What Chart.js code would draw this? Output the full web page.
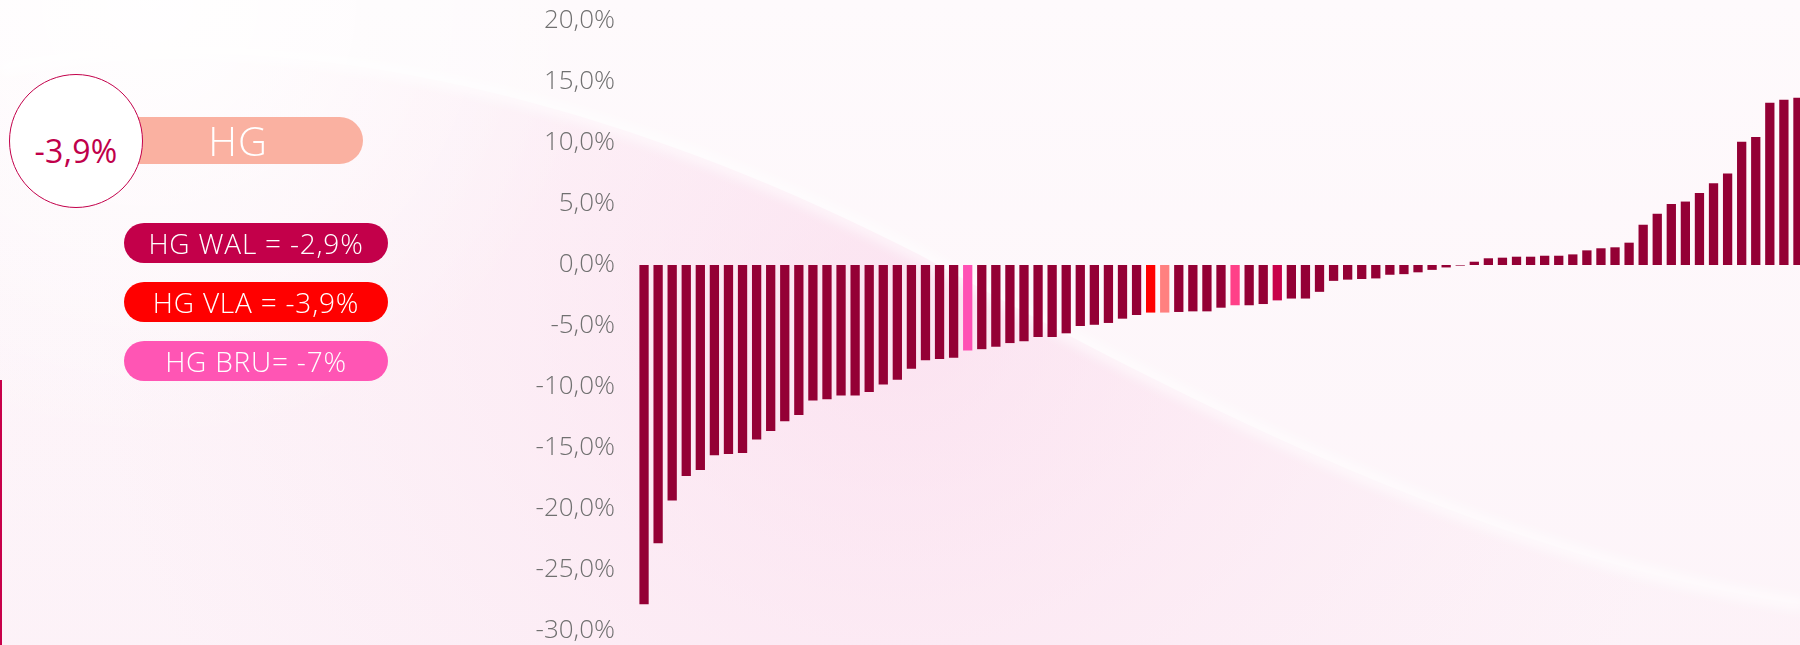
<!DOCTYPE html>
<html>
<head>
<meta charset="utf-8">
<script src="https://cdn.jsdelivr.net/npm/chart.js@4/dist/chart.umd.min.js"></script>
<style>
  html, body { margin: 0; padding: 0; width: 1800px; height: 645px; overflow: hidden; background: #fdf6fa; }
  body { position: relative; font-family: "Open Sans", sans-serif; }
  #myChart { position: absolute; left: 0; top: 0; }
  .pill {
    position: absolute; box-sizing: border-box; color: #fff; font-weight: 300;
    display: flex; align-items: center; justify-content: center; white-space: nowrap;
  }
  .small { left: 124px; width: 264px; height: 40px; border-radius: 20px; font-size: 28px; letter-spacing: 0.8px; }
  #hg { left: 60px; top: 117px; width: 303px; height: 47px; border-radius: 24px; background: #fab1a1; font-size: 40px; padding-left: 53px; letter-spacing: 1px; }
  #circle {
    position: absolute; left: 9px; top: 74px; width: 134px; height: 134px; box-sizing: border-box;
    border: 1.5px solid #c2004a; border-radius: 50%; background: #fff; color: #c0004a;
    font-size: 32px; font-weight: 400; letter-spacing: 0.3px;
    display: flex; align-items: center; justify-content: center; padding-top: 18px;
  }
  #leftline { position: absolute; left: 0; top: 380px; width: 2px; height: 265px; background: #c8004a; }
</style>
</head>
<body>
<canvas id="myChart" width="1805" height="645"></canvas>
<div id="hg" class="pill">HG</div>
<div id="circle">-3,9%</div>
<div class="pill small" style="top:223px;background:#c3004a;">HG WAL = -2,9%</div>
<div class="pill small" style="top:282px;background:#ff0000;">HG VLA = -3,9%</div>
<div class="pill small" style="top:341px;background:#ff55b4;">HG BRU= -7%</div>
<div id="leftline"></div>
<script>
var values = [
  -27.8, -22.8, -19.3, -17.3, -16.8, -15.6, -15.5, -15.4, -14.3, -13.6,
  -12.8, -12.3, -11.1, -11.0, -10.7, -10.7, -10.4, -9.8, -9.4, -8.5,
  -7.8, -7.7, -7.6, -7.0, -6.9, -6.7, -6.4, -6.25, -5.9, -5.9,
  -5.6, -5.0, -4.9, -4.75, -4.4, -4.1, -3.9, -3.9, -3.85, -3.8,
  -3.8, -3.5, -3.3, -3.3, -3.2, -2.9, -2.75, -2.75, -2.2, -1.3,
  -1.2, -1.15, -1.1, -0.8, -0.75, -0.6, -0.4, -0.2, -0.05, 0.27,
  0.55, 0.6, 0.68, 0.68, 0.76, 0.76, 0.87, 1.2, 1.37, 1.45,
  1.83, 3.3, 4.2, 5.0, 5.2, 5.9, 6.7, 7.5, 10.1, 10.5,
  13.3, 13.55, 13.7
];
var labels = values.map((v, i) => String(i + 1));
// highlighted bars: index -> colour
var highlights = { 23: '#ff50b4', 36: '#ff0000', 37: '#ff8080', 42: '#ff4088', 45: '#c8004a' };
var baseColor = '#940035';
var yTicks = { min: -30, max: 20, step: 5 };

var colors = values.map((v, i) => highlights[i] || baseColor);

var bgPlugin = {
  id: 'bg',
  beforeDraw(chart) {
    var ctx = chart.ctx, w = chart.width, h = chart.height;
    ctx.save();
    var g = ctx.createLinearGradient(0, 0, 0, h);
    g.addColorStop(0, '#fefafc');
    g.addColorStop(1, '#fdf4f9');
    ctx.fillStyle = g;
    ctx.fillRect(0, 0, w, h);

    var curve = new Path2D();
    curve.moveTo(0, 70);
    curve.bezierCurveTo(250, 20, 580, 80, 920, 255);
    curve.bezierCurveTo(1200, 410, 1500, 560, 1805, 605);
    var below = new Path2D(curve);
    below.lineTo(1805, 645);
    below.lineTo(0, 645);
    below.closePath();

    ctx.save();
    ctx.clip(below);
    var r = ctx.createRadialGradient(900, 320, 50, 900, 320, 800);
    r.addColorStop(0, 'rgba(250,210,232,0.5)');
    r.addColorStop(1, 'rgba(250,225,238,0.1)');
    ctx.fillStyle = r;
    ctx.fillRect(0, 0, w, h);
    ctx.restore();

    var tl = ctx.createRadialGradient(150, 0, 10, 150, 0, 450);
    tl.addColorStop(0, 'rgba(255,255,255,0.9)');
    tl.addColorStop(1, 'rgba(255,255,255,0)');
    ctx.fillStyle = tl;
    ctx.fillRect(0, 0, w, h);

    ctx.filter = 'blur(6px)';
    ctx.strokeStyle = 'rgba(255,255,255,0.6)';
    ctx.lineWidth = 14;
    ctx.stroke(curve);
    ctx.restore();
  }
};

var myChart = new Chart(document.getElementById('myChart'), {
  type: 'bar',
  data: {
    labels: labels,
    datasets: [{
      data: values,
      backgroundColor: colors,
      borderWidth: 0,
      barPercentage: 0.66,
      categoryPercentage: 1
    }]
  },
  options: {
    responsive: false,
    animation: false,
    layout: { padding: { top: 21, bottom: 14, left: 0, right: 0 } },
    plugins: { legend: { display: false }, tooltip: { enabled: false } },
    scales: {
      x: { display: false },
      y: {
        min: yTicks.min,
        max: yTicks.max,
        grid: { display: false },
        border: { display: false },
        afterFit: (s) => { s.width = 637; s.paddingTop = 0; s.paddingBottom = 0; },
        ticks: {
          stepSize: yTicks.step,
          padding: 14,
          color: '#707070',
          font: { family: 'Open Sans', size: 26, weight: '300' },
          callback: (v) => v.toFixed(1).replace('.', ',') + '%'
        }
      }
    }
  },
  plugins: [bgPlugin]
});
</script>
</body>
</html>
